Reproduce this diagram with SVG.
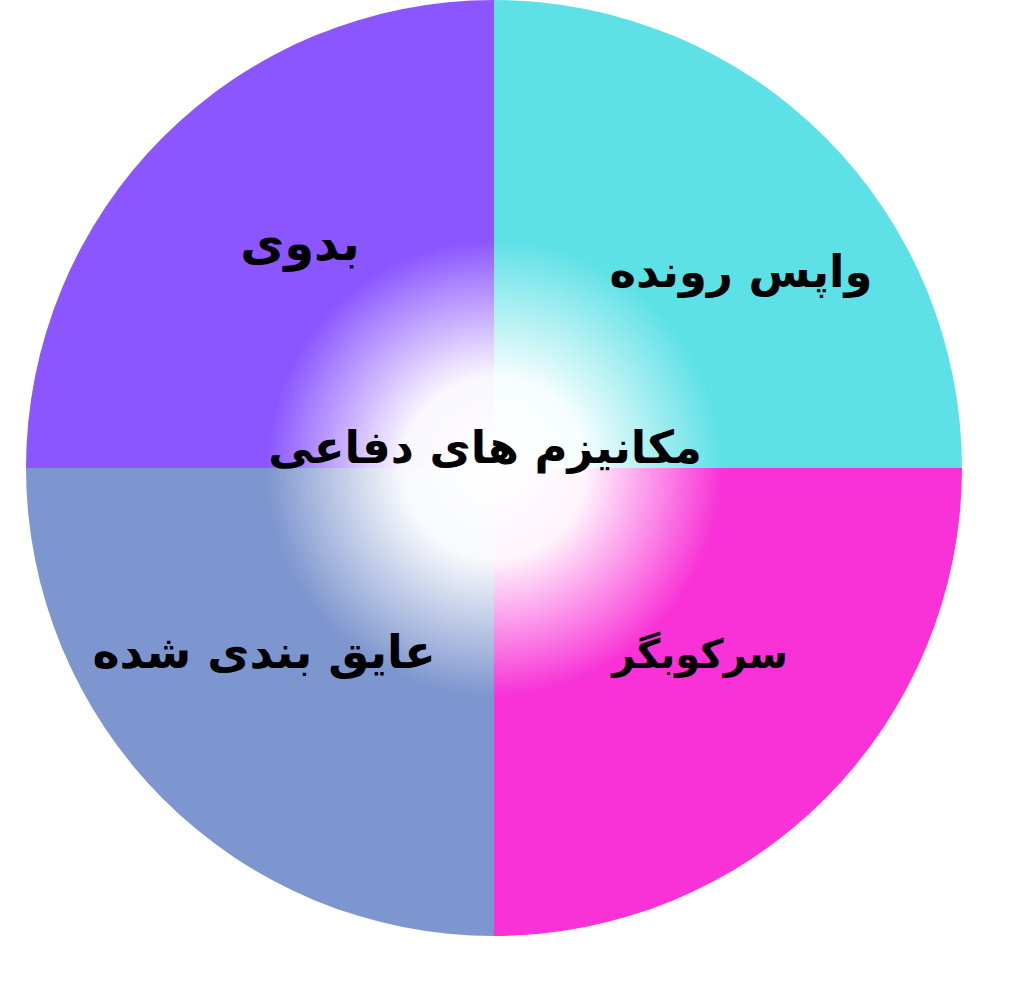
<svg xmlns="http://www.w3.org/2000/svg" width="1024" height="989" viewBox="0 0 1024 989">
<style>
.lbl{font-family:"DejaVu Sans","Noto Sans",sans-serif;font-weight:bold;fill:#000;text-anchor:middle;direction:rtl}
</style>
<defs>
<radialGradient id="glow" cx="494" cy="468" r="228" gradientUnits="userSpaceOnUse">
<stop offset="0" stop-color="#fff" stop-opacity="1"/>
<stop offset="0.4" stop-color="#fff" stop-opacity="0.95"/>
<stop offset="1" stop-color="#fff" stop-opacity="0"/>
</radialGradient>
</defs>
<rect width="1024" height="989" fill="#fff"/>
<g id="q-tl"><path d="M494 468 L26 468 A468 468 0 0 1 494 0 Z" fill="#8B55FF"/></g>
<g id="q-tr"><path d="M494 468 L494 0 A468 468 0 0 1 962 468 Z" fill="#5EE1E6"/></g>
<g id="q-br"><path d="M494 468 L962 468 A468 468 0 0 1 494 936 Z" fill="#F832D6"/></g>
<g id="q-bl"><path d="M494 468 L494 936 A468 468 0 0 1 26 468 Z" fill="#7E96CF"/></g>
<circle cx="494" cy="468" r="228" fill="url(#glow)"/>
<g id="n-center"><text class="lbl" x="485" y="463" font-size="45">مکانیزم های دفاعی</text></g>
<g id="n-tl"><text class="lbl" x="300" y="260" font-size="48">بدوی</text></g>
<g id="n-tr"><text class="lbl" x="741" y="287" font-size="45">واپس رونده</text></g>
<g id="n-bl"><text class="lbl" x="264" y="668" font-size="46">عایق بندی شده</text></g>
<g id="n-br"><text class="lbl" x="700" y="668" font-size="40">سرکوبگر</text></g>
</svg>
